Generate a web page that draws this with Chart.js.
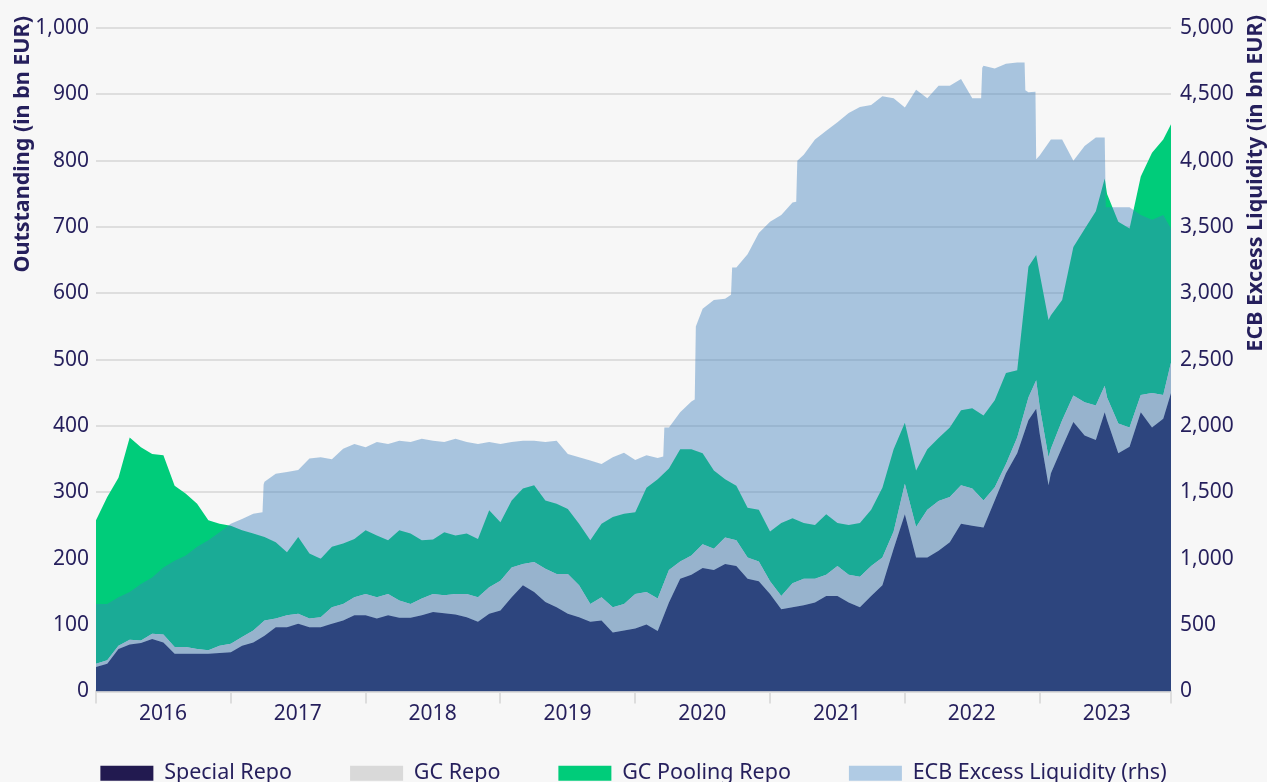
<!DOCTYPE html>
<html>
<head>
<meta charset="utf-8">
<script src="https://cdn.jsdelivr.net/npm/chart.js@4.4.1/dist/chart.umd.min.js"></script>
<style>
  html, body { margin: 0; padding: 0; background: #f7f7f7; overflow: hidden; }
  #wrap { width: 1267px; height: 794px; }
</style>
</head>
<body>
<div id="wrap"><canvas id="myChart"></canvas></div>
<script>
/* datos de repo (mensual, con algunos puntos extra en picos) */
const repoDates = [
  '2016-01-01','2016-02-01','2016-03-01','2016-04-01','2016-05-01','2016-06-01','2016-07-01','2016-08-01','2016-09-01','2016-10-01','2016-11-01','2016-12-01',
  '2017-01-01','2017-02-01','2017-03-01','2017-04-01','2017-05-01','2017-06-01','2017-07-01','2017-08-01','2017-09-01','2017-10-01','2017-11-01','2017-12-01',
  '2018-01-01','2018-02-01','2018-03-01','2018-04-01','2018-05-01','2018-06-01','2018-07-01','2018-08-01','2018-09-01','2018-10-01','2018-11-01','2018-12-01',
  '2019-01-01','2019-02-01','2019-03-01','2019-04-01','2019-05-01','2019-06-01','2019-07-01','2019-08-01','2019-09-01','2019-10-01','2019-11-01','2019-12-01',
  '2020-01-01','2020-02-01','2020-03-01','2020-04-01','2020-05-01','2020-06-01','2020-07-01','2020-08-01','2020-09-01','2020-10-01','2020-11-01','2020-12-01',
  '2021-01-01','2021-02-01','2021-03-01','2021-04-01','2021-05-01','2021-06-01','2021-07-01','2021-08-01','2021-09-01','2021-10-01','2021-11-01','2021-12-01',
  '2022-01-01','2022-02-01','2022-03-01','2022-04-01','2022-05-01','2022-06-01','2022-07-01','2022-08-01','2022-09-01','2022-10-01','2022-11-01','2022-12-01','2022-12-22',
  '2023-01-01','2023-01-25','2023-02-01','2023-03-01','2023-04-01','2023-05-01','2023-06-01','2023-06-25','2023-07-01','2023-08-01','2023-09-01','2023-10-01','2023-11-01','2023-12-01','2023-12-22'
];
const specialRepo = [
  37, 42, 64, 71, 73, 79, 74, 57, 57, 57, 57, 58,
  59, 69, 74, 84, 97, 97, 102, 97, 97, 102, 107, 115,
  115, 110, 115, 111, 111, 115, 120, 118, 116, 112, 105, 117,
  122, 142, 160, 150, 135, 127, 117, 112, 105, 107, 89, 92,
  95, 101, 91, 134, 170, 176, 186, 183, 192, 189, 170, 166,
  147, 124, 127, 130, 134, 144, 144, 134, 127, 144, 160, 215,
  267, 202, 202, 212, 225, 253, 250, 247, 288, 329, 359, 409, 426,
  389, 311, 329, 368, 406, 386, 379, 421, 409, 359, 369, 421, 398, 411, 450
];
const gcRepo = [
  5, 5, 5, 7, 4, 8, 12, 10, 10, 7, 5, 11,
  13, 13, 18, 23, 13, 18, 15, 13, 15, 25, 25, 27,
  32, 32, 32, 26, 21, 25, 27, 27, 31, 35, 37, 40,
  45, 45, 32, 45, 50, 50, 60, 48, 27, 35, 38, 40,
  52, 49, 49, 49, 26, 29, 36, 32, 40, 39, 32, 30,
  19, 20, 36, 40, 36, 32, 45, 42, 46, 45, 42, 26,
  46, 46, 72, 75, 68, 58, 56, 41, 20, 14, 24, 34, 43,
  40, 42, 37, 41, 40, 50, 52, 40, 34, 45, 29, 26, 52, 36, 46
];
const gcPoolingRepo = [
  216, 246, 253, 305, 291, 271, 270, 243, 231, 219, 196, 184,
  178, 161, 146, 126, 115, 95, 116, 98, 88, 91, 91, 88,
  96, 93, 81, 106, 106, 88, 82, 95, 88, 91, 88, 116,
  88, 101, 114, 116, 103, 106, 98, 93, 96, 111, 136, 136,
  123, 157, 180, 153, 169, 160, 137, 118, 88, 82, 75, 78,
  75, 110, 98, 84, 81, 91, 65, 75, 81, 85, 105, 124,
  92, 85, 91, 95, 105, 113, 121, 128, 131, 137, 101, 197, 189,
  201, 207, 201, 181, 224, 261, 293, 312, 307, 304, 300, 329, 362, 385, 359
];

/* exceso de liquidez del BCE (eje derecho) */
const ecbDates = [
  '2016-01-01','2016-02-01','2016-03-01','2016-04-01','2016-05-01','2016-06-01','2016-07-01','2016-08-01','2016-09-01','2016-10-01','2016-11-01','2016-12-01',
  '2017-01-01','2017-02-01','2017-03-01','2017-03-26','2017-03-29','2017-04-01','2017-05-01','2017-06-01','2017-07-01','2017-08-01','2017-09-01','2017-10-01','2017-11-01','2017-12-01',
  '2018-01-01','2018-02-01','2018-03-01','2018-04-01','2018-05-01','2018-06-01','2018-07-01','2018-08-01','2018-09-01','2018-10-01','2018-11-01','2018-12-01',
  '2019-01-01','2019-02-01','2019-03-01','2019-04-01','2019-05-01','2019-06-01','2019-07-01','2019-08-01','2019-09-01','2019-10-01','2019-11-01','2019-12-01',
  '2020-01-01','2020-02-01','2020-03-01','2020-03-16','2020-03-19','2020-04-01','2020-05-01','2020-06-01','2020-06-10','2020-06-13','2020-07-01','2020-08-01','2020-09-01','2020-09-17','2020-09-20','2020-10-01','2020-11-01','2020-12-01',
  '2021-01-01','2021-02-01','2021-03-01','2021-03-11','2021-03-14','2021-04-01','2021-05-01','2021-06-01','2021-07-01','2021-08-01','2021-09-01','2021-10-01','2021-11-01','2021-12-01',
  '2022-01-01','2022-02-01','2022-03-01','2022-04-01','2022-05-01','2022-06-01','2022-07-01','2022-07-25','2022-07-28','2022-08-01','2022-09-01','2022-10-01','2022-11-01','2022-11-21','2022-11-23','2022-12-01','2022-12-20','2022-12-22',
  '2023-01-01','2023-02-01','2023-03-01','2023-04-01','2023-05-01','2023-06-01','2023-06-25','2023-06-28','2023-07-01','2023-08-01','2023-09-01','2023-10-01','2023-11-01','2023-12-01','2023-12-22'
];
const ecbExcessLiquidity = [
  660, 660, 710, 750, 810, 860, 935, 985, 1025, 1090, 1140, 1200,
  1265, 1300, 1340, 1350, 1560, 1580, 1640, 1655, 1670, 1755, 1765, 1750, 1830, 1865,
  1840, 1880, 1865, 1890, 1880, 1905, 1890, 1880, 1905, 1880, 1865, 1880,
  1865, 1880, 1890, 1890, 1880, 1890, 1790, 1765, 1740, 1715, 1765, 1800,
  1745, 1780, 1760, 1770, 1990, 1990, 2105, 2185, 2200, 2750, 2885, 2950, 2960, 2990, 3195, 3195, 3295, 3455,
  3540, 3590, 3685, 3690, 4000, 4045, 4160, 4225, 4290, 4360, 4405, 4420, 4485, 4470,
  4400, 4535, 4470, 4565, 4565, 4615, 4470, 4470, 4700, 4715, 4695, 4730, 4740, 4740, 4530, 4515, 4520, 4010,
  4040, 4160, 4160, 4000, 4110, 4175, 4175, 3650, 3650, 3650, 3650, 3590, 3555, 3590, 3490
];

const yearTicks = [2016, 2017, 2018, 2019, 2020, 2021, 2022, 2023];

const textColor = '#251f5c';

// fecha 'YYYY-MM-DD' -> año decimal
function toYear(d) {
  const [y, m, day] = d.split('-').map(Number);
  return y + (m - 1) / 12 + (day - 1) / 365;
}

function toPoints(dates, values) {
  return dates.map((d, i) => ({ x: toYear(d), y: values[i] }));
}

const xMax = toYear(repoDates[repoDates.length - 1]);

// titulos de los ejes (el de la derecha tambien se lee de abajo hacia arriba)
const axisTitles = {
  id: 'axisTitles',
  afterDraw(chart) {
    const c = chart.ctx;
    c.save();
    c.fillStyle = textColor;
    c.font = 'bold 21.5px "Noto Sans"';
    c.textAlign = 'right';
    c.textBaseline = 'middle';
    [[23, 16, 'Outstanding (in bn EUR)'], [chart.width - 11, 15, 'ECB Excess Liquidity (in bn EUR)']].forEach(([x, y, txt]) => {
      c.save();
      c.translate(x, y);
      c.rotate(-Math.PI / 2);
      c.fillText(txt, 0, 0);
      c.restore();
    });
    c.restore();
  }
};

Chart.defaults.font.family = '"Noto Sans", "Open Sans", sans-serif';
Chart.defaults.font.size = 21;
Chart.defaults.color = textColor;

const ctx = document.getElementById('myChart').getContext('2d');

new Chart(ctx, {
  type: 'line',
  data: {
    datasets: [
      {
        label: 'Special Repo',
        data: toPoints(repoDates, specialRepo),
        backgroundColor: '#221a50',
        fill: 'origin',
        order: 1
      },
      {
        label: 'GC Repo',
        data: toPoints(repoDates, gcRepo),
        backgroundColor: '#d9d9d9',
        fill: '-1',
        order: 1
      },
      {
        label: 'GC Pooling Repo',
        data: toPoints(repoDates, gcPoolingRepo),
        backgroundColor: '#00cc7a',
        fill: '-1',
        order: 1
      },
      {
        label: 'ECB Excess Liquidity (rhs)',
        data: toPoints(ecbDates, ecbExcessLiquidity),
        backgroundColor: 'rgba(61, 127, 188, 0.425)',
        fill: 'origin',
        yAxisID: 'y1',
        order: 0
      }
    ]
  },
  options: {
    responsive: true,
    maintainAspectRatio: false,
    animation: false,
    locale: 'en-US',
    elements: {
      point: { radius: 0, hoverRadius: 0 },
      line: { borderWidth: 0, borderColor: 'rgba(0,0,0,0)', tension: 0 }
    },
    layout: { padding: { top: 28 } },
    plugins: {
      tooltip: { enabled: false },
      legend: {
        position: 'bottom',
        labels: {
          boxWidth: 53,
          boxHeight: 15,
          padding: 58,
          color: textColor,
          font: { size: 21.5 },
          sort: (a, b) => a.datasetIndex - b.datasetIndex,
          generateLabels: chart => Chart.defaults.plugins.legend.labels.generateLabels(chart).map(item => {
            if (item.datasetIndex === 3) item.fillStyle = '#b0cbe4';
            item.lineWidth = 0;
            return item;
          })
        }
      }
    },
    scales: {
      x: {
        type: 'linear',
        min: 2016,
        max: xMax,
        afterBuildTicks: scale => {
          scale.ticks = yearTicks.map(v => ({ value: v })).concat([{ value: xMax }]);
        },
        afterFit: scale => { scale.height = 13; },
        grid: { drawOnChartArea: false, drawTicks: true, tickLength: 12, color: '#dddddd', lineWidth: 2 },
        border: { display: true, color: '#dddddd', width: 3 },
        ticks: {
          autoSkip: false,
          maxRotation: 0,
          mirror: true,     // sin recorte: la etiqueta queda debajo del eje
          padding: -35,
          labelOffset: 67,
          callback: v => (Number.isInteger(v) ? String(v) : '')
        }
      },
      y: {
        stacked: true,
        min: 0,
        max: 1000,
        afterFit: scale => { scale.width = 96; },
        grid: { color: '#dedede', lineWidth: 2, drawTicks: false },
        border: { display: false },
        ticks: { stepSize: 100, padding: 7 }
      },
      y1: {
        position: 'right',
        min: 0,
        max: 5000,
        afterFit: scale => { scale.width = 96; },
        grid: { display: false, drawTicks: false },
        border: { display: false },
        ticks: { stepSize: 500, padding: 9 }
      }
    }
  },
  plugins: [axisTitles]
});
</script>
</body>
</html>
